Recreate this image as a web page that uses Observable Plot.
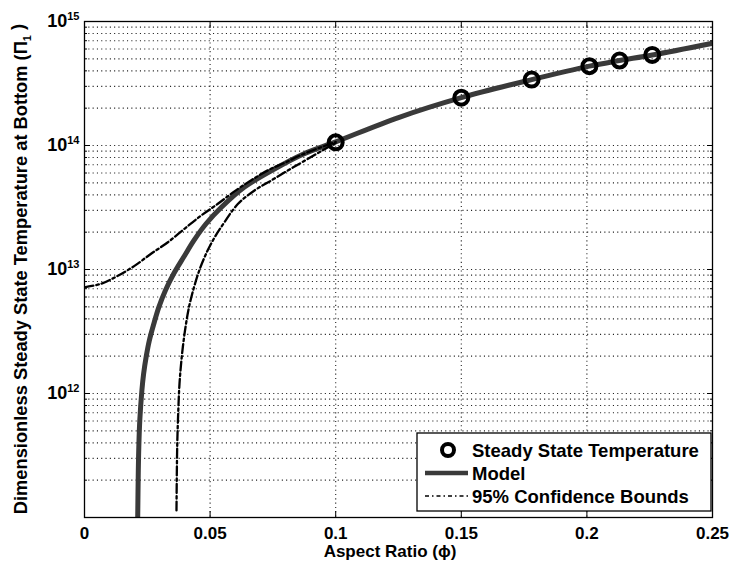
<!DOCTYPE html>
<html><head><meta charset="utf-8">
<script src="https://cdn.jsdelivr.net/npm/d3@7"></script>
<script src="https://cdn.jsdelivr.net/npm/@observablehq/plot@0.6"></script>
<style>body{margin:0;background:#fff}</style>
</head><body><div id="chart"></div>
<script>
// Model curve
const modelX = [0.02118, 0.02142, 0.02162, 0.02201, 0.02285, 0.02353, 0.02452, 0.0258, 0.0276, 0.0296, 0.0322, 0.0355, 0.0395, 0.0435, 0.0484, 0.0544, 0.0637, 0.0756, 0.087, 0.1, 0.125, 0.15, 0.178, 0.201, 0.213, 0.226, 0.25];
const modelY = [1e11, 2.39e11, 3.69e11, 6.06e11, 1.06e12, 1.44e12, 1.96e12, 2.67e12, 3.65e12, 4.97e12, 6.78e12, 9.23e12, 1.26e13, 1.71e13, 2.34e13, 3.16e13, 4.62e13, 6.46e13, 8.51e13, 1.07e14, 1.68e14, 2.43e14, 3.4e14, 4.37e14, 4.84e14, 5.37e14, 6.68e14];
// Upper 95% confidence bound
const upperX = [0, 0.0066, 0.0133, 0.0199, 0.0265, 0.0332, 0.0398, 0.0464, 0.0531, 0.0597, 0.0664, 0.073, 0.0796, 0.087, 0.1];
const upperY = [7.19e12, 7.67e12, 8.91e12, 1.07e13, 1.34e13, 1.66e13, 2.13e13, 2.72e13, 3.39e13, 4.27e13, 5.25e13, 6.31e13, 7.24e13, 8.51e13, 1.07e14];
// Lower 95% confidence bound
const lowerX = [0.03662, 0.0369, 0.03734, 0.03782, 0.0387, 0.04001, 0.0416, 0.04359, 0.04598, 0.04877, 0.05155, 0.05442, 0.06103, 0.06768, 0.07432, 0.08093, 0.087, 0.1];
const lowerY = [1.14e11, 3.69e11, 7.3e11, 1.2e12, 1.96e12, 3.22e12, 4.97e12, 7.19e12, 1.02e13, 1.39e13, 1.78e13, 2.2e13, 3.37e13, 4.34e13, 5.22e13, 6.28e13, 7.41e13, 1.05e14];
// Steady state temperature observations
const obsX = [0.1, 0.15, 0.178, 0.201, 0.213, 0.226];
const obsY = [1.06e14, 2.43e14, 3.4e14, 4.36e14, 4.84e14, 5.37e14];

// Axis ticks
const xTicks = [0, 0.05, 0.1, 0.15, 0.2, 0.25];
const xTickLabels = ["0", "0.05", "0.1", "0.15", "0.2", "0.25"];
const yMajor = [1e11, 1e12, 1e13, 1e14, 1e15];
const yMajorLabels = ["", "12", "13", "14", "15"];
const yDecades = [11, 12, 13, 14];
const yMultipliers = [2, 3, 4, 5, 6, 7, 8, 9];

const font = '"Liberation Sans", Arial, Helvetica, sans-serif';
const model = modelX.map((x, i) => ({x, y: modelY[i]}));
const upper = upperX.map((x, i) => ({x, y: upperY[i]}));
const lower = lowerX.map((x, i) => ({x, y: lowerY[i]}));
const obs = obsX.map((x, i) => ({x, y: obsY[i]}));
const yMinor = yDecades.flatMap(d => yMultipliers.map(m => m * Math.pow(10, d)));
const yGrid = yMajor.slice(1, -1).concat(yMinor);
const xGrid = xTicks.slice(1, -1);
const xLab = new Map(xTicks.map((t, i) => [t, xTickLabels[i]]));
const yLab = new Map(yMajor.map((t, i) => [t, yMajorLabels[i]]));

const gridStyle = {stroke: "#222", strokeWidth: 1.1, strokeDasharray: "1.1,3.2"};
const dashStyle = {stroke: "#000", strokeWidth: 2.3, strokeDasharray: "9,3,2.5,3", curve: "catmull-rom", clip: true};
const chart = Plot.plot({
  width: 729, height: 566,
  marginLeft: 84, marginRight: 17, marginTop: 21, marginBottom: 49,
  style: {fontFamily: font, fontWeight: "bold", fontSize: "17px", color: "#000", background: "#fff"},
  x: {domain: [0, 0.25]},
  y: {type: "log", domain: [1e11, 1e15]},
  marks: [
    Plot.ruleY(yGrid, gridStyle),
    Plot.ruleX(xGrid, gridStyle),
    Plot.line(model, {x: "x", y: "y", stroke: "#3a3a3a", strokeWidth: 5, curve: "catmull-rom", clip: true}),
    Plot.line(upper, {x: "x", y: "y", ...dashStyle}),
    Plot.line(lower, {x: "x", y: "y", ...dashStyle}),
    Plot.dot(obs, {x: "x", y: "y", r: 7, stroke: "#000", strokeWidth: 4, fill: "none"}),
    Plot.frame({stroke: "#000", strokeWidth: 1.3}),
    Plot.axisX(xTicks, {anchor: "bottom", tickSize: -6, tickPadding: 15, tickFormat: d => xLab.get(d), label: null}),
    Plot.axisX(xTicks, {anchor: "top", tickSize: -6, tickFormat: () => "", label: null}),
    Plot.axisY(yMajor, {anchor: "left", tickSize: -6, tickPadding: 11, tickFormat: d => yLab.get(d), label: null}),
    Plot.axisY(yMinor, {anchor: "left", tickSize: -3, tickFormat: () => "", label: null}),
    Plot.axisY(yMajor, {anchor: "right", tickSize: -6, tickFormat: () => "", label: null}),
    Plot.axisY(yMinor, {anchor: "right", tickSize: -3, tickFormat: () => "", label: null})
  ]
});
document.getElementById("chart").appendChild(chart);

const svg = d3.select(chart);
// superscript exponents on y tick labels
svg.selectAll('g[aria-label="y-axis tick label"] text').each(function() {
  const t = d3.select(this);
  const e = t.text();
  if (!e) return;
  t.text("");
  t.append("tspan").attr("font-size", "18px").text("10");
  t.append("tspan").attr("dy", "-0.65em").attr("font-size", "11px").text(e);
});

// y-axis title
const yt = svg.append("text")
  .attr("transform", "translate(27,269) rotate(-90)")
  .attr("text-anchor", "middle").attr("font-family", font).attr("font-weight", "bold").attr("font-size", 18.3);
yt.append("tspan").text("Dimensionless Steady State Temperature at Bottom (Π");
yt.append("tspan").attr("dy", "0.35em").attr("font-size", "11px").text("1");
yt.append("tspan").attr("dy", "-0.35em").text(" )");

// x-axis title
svg.append("text").attr("x", 390).attr("y", 557).attr("text-anchor", "middle")
  .attr("font-family", font).attr("font-weight", "bold").attr("font-size", 17)
  .text("Aspect Ratio (ϕ)");

// legend
const lg = svg.append("g").attr("font-family", font).attr("font-weight", "bold").attr("font-size", 18.5).attr("text-anchor", "start");
lg.append("rect").attr("x", 417).attr("y", 433).attr("width", 294).attr("height", 78)
  .attr("fill", "#fff").attr("stroke", "#000").attr("stroke-width", 1.3);
lg.append("circle").attr("cx", 448).attr("cy", 450).attr("r", 6).attr("fill", "none").attr("stroke", "#000").attr("stroke-width", 4);
lg.append("text").attr("x", 472).attr("y", 456.5).text("Steady State Temperature");
lg.append("line").attr("x1", 425).attr("x2", 468).attr("y1", 473).attr("y2", 473).attr("stroke", "#3a3a3a").attr("stroke-width", 4.5);
lg.append("text").attr("x", 472).attr("y", 480).text("Model");
lg.append("line").attr("x1", 425).attr("x2", 468).attr("y1", 496).attr("y2", 496).attr("stroke", "#000").attr("stroke-width", 1.6).attr("stroke-dasharray", "4,3,1.5,3");
lg.append("text").attr("x", 472).attr("y", 503).text("95% Confidence Bounds");
</script>
</body></html>
